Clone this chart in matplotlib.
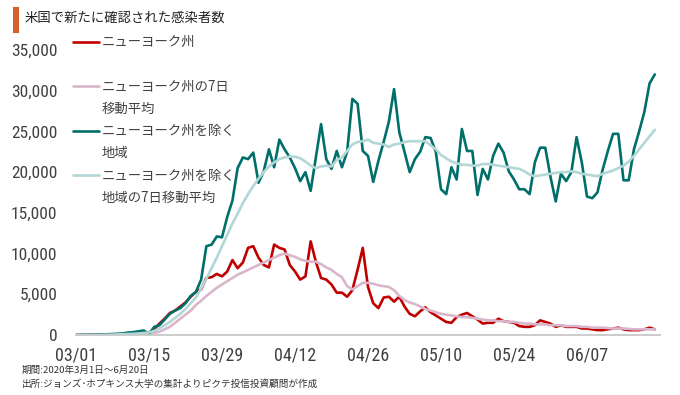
import numpy as np
import pandas as pd
import matplotlib
matplotlib.use("Agg")
import matplotlib.pyplot as plt
from matplotlib import font_manager
from matplotlib.legend_handler import HandlerLine2D
from matplotlib.lines import Line2D
from matplotlib.patches import Rectangle

# ---------------- data ----------------
start_date = "2020-03-01"
end_date = "2020-06-20"

ny_daily = [
    0, 0, 0, 0, 0, 0, 20, 30, 50, 100, 100, 150, 200, 300,
    300, 700, 1400, 2000, 2700, 3000, 3500, 4000, 4700, 5300,
    5600, 7000, 7100, 7500, 7200, 7800, 9200, 8200, 8900, 10700,
    10900, 9500, 8600, 8300, 11100, 10700, 10500, 8600, 7800, 6800,
    7200, 11500, 9000, 7000, 6800, 6200, 5200, 5200, 4700, 5500,
    8000, 10700, 5900, 3900, 3300, 4600, 4700, 4100, 4700, 3500,
    2600, 2300, 2900, 3400, 2800, 2400, 2000, 1600, 1500, 2200,
    2500, 2700, 2300, 1900, 1400, 1500, 1500, 2000, 1700, 1600,
    1500, 1100, 1000, 1000, 1200, 1800, 1600, 1400, 1000, 1200,
    1000, 1000, 1000, 800, 800, 700, 600, 600, 700, 800,
    900, 700, 600, 600, 600, 700, 900, 700,
]

ny_avg7 = [
    0, 0, 0, 0, 0, 0, 0, 10, 20, 30, 50, 60, 80, 100,
    150, 250, 400, 700, 1000, 1500, 2000, 2500, 3000, 3700,
    4200, 4800, 5300, 5800, 6200, 6600, 7000, 7400, 7700, 8000,
    8300, 8600, 8900, 9200, 9500, 9800, 10000, 9800, 9600, 9300,
    9100, 9000, 9000, 8700, 8300, 8000, 7500, 7100, 6000, 5600,
    6000, 6400, 6400, 6300, 6100, 6000, 5900, 5500, 4800, 4300,
    4000, 3800, 3500, 3200, 3000, 2800, 2600, 2500, 2400, 2300,
    2200, 2200, 2100, 2000, 1900, 1800, 1800, 1700, 1700, 1600,
    1600, 1500, 1400, 1400, 1300, 1300, 1300, 1200, 1200, 1200,
    1100, 1100, 1100, 1000, 1000, 900, 900, 900, 850, 800,
    800, 800, 750, 700, 700, 700, 700, 700,
]

rest_daily = [
    0, 20, 30, 40, 50, 70, 90, 120, 150, 200, 300, 350, 450, 550,
    100, 1000, 1200, 1900, 2600, 3000, 3300, 3900, 4800, 5300,
    6800, 10900, 11100, 12100, 12000, 14500, 16500, 20500, 21800, 21600,
    22400, 18700, 20100, 22800, 20600, 24000, 22800, 21800, 20500, 18900,
    20000, 17700, 21800, 25900, 21600, 20400, 22600, 20600, 22500, 29000,
    28400, 22600, 22000, 18800, 21400, 23700, 26200, 30200, 24900, 22500,
    20000, 21600, 22500, 24300, 24200, 22500, 17900, 17300, 20600, 19100,
    25300, 22600, 22600, 17200, 20400, 19100, 22000, 23500, 22400, 20100,
    19100, 17900, 17900, 17300, 21200, 23000, 23000, 19400, 16400, 19800,
    18900, 20000, 24300, 21200, 17000, 16800, 17500, 20300, 22600, 24700,
    24700, 19000, 19000, 22800, 25000, 27400, 30900, 32000,
]

rest_avg7 = [
    0, 0, 0, 0, 0, 20, 30, 50, 70, 100, 120, 150, 200, 250,
    300, 500, 800, 1200, 1600, 2100, 2600, 3200, 3900, 4600,
    5700, 6900, 8200, 9500, 10900, 12300, 13700, 14900, 16200, 17300,
    18300, 19200, 20000, 20700, 21200, 21600, 21800, 21900, 21900, 21700,
    21300, 20800, 20500, 20700, 20800, 20700, 21500, 21800, 22600, 23400,
    23700, 23800, 24000, 23600, 23500, 23400, 23100, 23400, 23500, 23700,
    23800, 23800, 23800, 23800, 23300, 22800, 22100, 21700, 21300, 21100,
    20900, 20900, 20800, 20800, 21000, 21000, 20900, 20800, 20700, 20600,
    20500, 20400, 20100, 19700, 19500, 19600, 19700, 19800, 19900, 20000,
    20000, 20100, 20000, 19800, 19700, 19600, 19500, 19800, 20000, 20200,
    20500, 20800, 21300, 22000, 22800, 23600, 24400, 25200,
]

series_labels = [
    "ニューヨーク州\n",
    "ニューヨーク州の7日\n移動平均",
    "ニューヨーク州を除く\n地域",
    "ニューヨーク州を除く\n地域の7日移動平均",
]
x_tick_dates = ["2020-03-01", "2020-03-15", "2020-03-29", "2020-04-12",
                "2020-04-26", "2020-05-10", "2020-05-24", "2020-06-07"]
x_tick_labels = ["03/01", "03/15", "03/29", "04/12", "04/26", "05/10", "05/24", "06/07"]
y_ticks = [0, 5000, 10000, 15000, 20000, 25000, 30000, 35000]
y_tick_labels = ["0", "5,000", "10,000", "15,000", "20,000", "25,000", "30,000", "35,000"]
title = "米国で新たに確認された感染者数"
notes = ["期間:2020年3月1日～6月20日",
         "出所:ジョンズ･ホプキンス大学の集計よりピクテ投信投資顧問が作成"]

# ---------------- style ----------------
available = {f.name for f in font_manager.fontManager.ttflist}

narrow = None
for cand in ["Liberation Sans Narrow", "Roboto Condensed", "DejaVu Sans Condensed"]:
    if cand in available:
        narrow = cand
        break
if narrow is not None:
    num_font, xsize, ysize = narrow, 13, 12.5
else:
    num_font, xsize, ysize = "Liberation Sans", 12, 11.5

plt.rcParams["font.family"] = ["Noto Sans CJK JP", "DejaVu Sans"]

colors = ["#c00000", "#d9b6cb", "#006f6a", "#b3d6d6"]
text_col = "#404040"
W, H = 680, 395

fig = plt.figure(figsize=(W / 100, H / 100), dpi=100)
ax = fig.add_axes([76 / W, 60 / H, 584 / W, 285 / H])

dates = pd.date_range(start_date, end_date, freq="D")
series = [ny_daily, ny_avg7, rest_daily, rest_avg7]
lines = []
for vals, c in zip(series, colors):
    ln, = ax.plot(dates, vals, color=c, lw=1.9, solid_joinstyle="round",
                  solid_capstyle="round")
    lines.append(ln)

ax.set_xlim(dates[0], dates[-1] + pd.Timedelta(days=1))
ax.set_ylim(0, 35000)
ax.set_xticks(pd.to_datetime(x_tick_dates))
ax.set_xticklabels(x_tick_labels)
ax.set_yticks(y_ticks)
ax.set_yticklabels(y_tick_labels)
ax.tick_params(axis="both", length=0, colors=text_col)
ax.tick_params(axis="y", pad=13.5)
ax.tick_params(axis="x", pad=8.5)
for lab in ax.get_xticklabels():
    lab.set_fontfamily(num_font)
    lab.set_fontsize(xsize)
for lab in ax.get_yticklabels():
    lab.set_fontfamily(num_font)
    lab.set_fontsize(ysize)
for s in ["left", "top", "right"]:
    ax.spines[s].set_visible(False)
ax.spines["bottom"].set_color("#c8c8c8")
ax.spines["bottom"].set_linewidth(1.3)
ax.patch.set_alpha(0)


class FirstLineHandler(HandlerLine2D):
    def __init__(self, shift, **kw):
        super().__init__(**kw)
        self.shift = shift

    def create_artists(self, legend, orig_handle, xdescent, ydescent, width,
                       height, fontsize, trans):
        artists = super().create_artists(legend, orig_handle, xdescent, ydescent,
                                         width, height, fontsize, trans)
        for a in artists:
            a.set_ydata(np.asarray(a.get_ydata()) + self.shift)
        return artists


leg = fig.legend(handles=lines, labels=series_labels, loc="upper left",
                 bbox_to_anchor=(73 / W, 1 - 35 / H), frameon=False,
                 fontsize=9.6, handlelength=1.95, handletextpad=0.2,
                 labelspacing=0.62, borderpad=0, borderaxespad=0,
                 handler_map={Line2D: FirstLineHandler(8.8)})
for t in leg.get_texts():
    t.set_linespacing(1.75)
    t.set_color(text_col)

# title with accent bar
fig.add_artist(Rectangle((13 / W, 1 - 33 / H), 6 / W, 26 / H,
                         transform=fig.transFigure, color="#d4602a", lw=0))
fig.text(25 / W, 1 - 18 / H, title, fontsize=9.6, va="center", ha="left",
         color="#222222")

fig.text(22 / W, 1 - 370 / H, notes[0], fontsize=6.9, va="center", ha="left",
         color="#333333")
fig.text(22 / W, 1 - 384 / H, notes[1], fontsize=6.9, va="center", ha="left",
         color="#333333")

fig.savefig("out.png", dpi=100)
